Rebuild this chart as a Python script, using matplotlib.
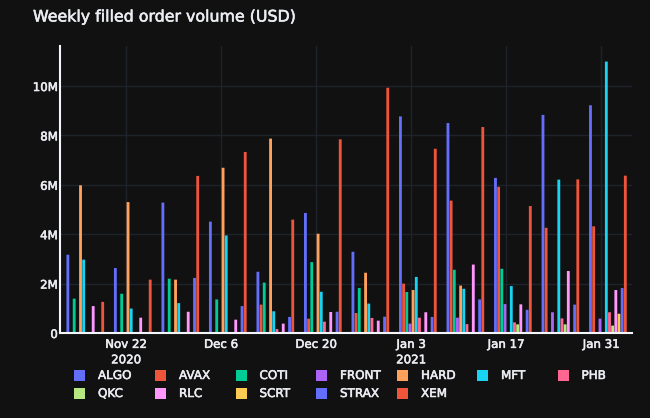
from datetime import date, timedelta
import matplotlib
matplotlib.use("Agg")
import matplotlib.pyplot as plt
import matplotlib.dates as mdates
import matplotlib.patheffects as pe

weeks = [date(2020, 11, 16) + timedelta(days=7 * i) for i in range(12)]

ALGO = [3.17, 2.63, 5.28, 4.51, 2.48, 4.86, 3.29, 8.77, 8.50, 6.28, 8.83, 9.22]
AVAX = [0.01, 0.01, 0.01, 0.01, 1.15, 0.58, 0.81, 2.00, 5.36, 5.92, 4.26, 4.32]
COTI = [1.39, 1.59, 2.20, 1.36, 2.04, 2.87, 1.82, 1.66, 2.56, 2.60, 0.01, 0.01]
FRONT = [0, 0, 0, 0, 0, 0, 0, 0.38, 0.62, 1.17, 0.84, 0.58]
HARD = [5.98, 5.30, 2.16, 6.69, 7.87, 4.02, 2.44, 1.74, 1.92, 0.01, 0.01, 0.01]
MFT = [2.97, 0.99, 1.21, 3.95, 0.88, 1.67, 1.19, 2.27, 1.79, 1.90, 6.21, 10.99]
PHB = [0, 0, 0, 0, 0.16, 0.46, 0.61, 0.62, 0.36, 0.43, 0.59, 0.84]
QKC = [0, 0, 0, 0, 0, 0, 0, 0, 0, 0.35, 0.35, 0.30]
RLC = [1.09, 0.62, 0.86, 0.54, 0.38, 0.85, 0.50, 0.84, 2.77, 1.16, 2.51, 1.74]
SCRT = [0, 0, 0, 0, 0, 0, 0, 0, 0, 0, 0, 0.78]
STRAX = [0, 0, 2.23, 1.09, 0.65, 0.86, 0.66, 0.65, 1.36, 0.94, 1.15, 1.82]
XEM = [1.26, 2.16, 6.36, 7.33, 4.59, 7.84, 9.93, 7.46, 8.34, 5.14, 6.22, 6.37]

series = [
    ("ALGO", ALGO, "#636efa"),
    ("AVAX", AVAX, "#ef553b"),
    ("COTI", COTI, "#00cc96"),
    ("FRONT", FRONT, "#ab63fa"),
    ("HARD", HARD, "#ffa15a"),
    ("MFT", MFT, "#19d3f3"),
    ("PHB", PHB, "#ff6692"),
    ("QKC", QKC, "#b6e880"),
    ("RLC", RLC, "#ff97ff"),
    ("SCRT", SCRT, "#fecb52"),
    ("STRAX", STRAX, "#636efa"),
    ("XEM", XEM, "#ef553b"),
]

tick_dates = [date(2020, 11, 22), date(2020, 12, 6), date(2020, 12, 20),
              date(2021, 1, 3), date(2021, 1, 17), date(2021, 1, 31)]
tick_labels = ["Nov 22\n2020", "Dec 6", "Dec 20", "Jan 3\n2021", "Jan 17", "Jan 31"]

BG = "#111111"
TXT = "#ebedf2"
W, H = 650, 418
heavy = [pe.withStroke(linewidth=0.4, foreground=TXT)]

plt.rcParams["font.family"] = ["DejaVu Sans"]
fig = plt.figure(figsize=(W / 100, H / 100), dpi=100, facecolor=BG)
ax = fig.add_axes([60.5 / W, 1 - 333 / H, (632 - 60.5) / W, (333 - 46) / H], facecolor=BG)

x0 = mdates.date2num(weeks)
day_w = 7 * 0.8 / len(series)
for i, (name, vals, col) in enumerate(series):
    bars = ax.bar(x0 + (i - 5.5) * day_w, vals, day_w * 0.9, color=col, edgecolor="none",
                  label=name, zorder=3)
    for b in bars:
        b.set_snap(False)

ax.set_xlim(x0[0] - 3.65, x0[-1] + 3.55)
ax.set_ylim(0, 11.62)
ax.set_xticks(mdates.date2num(tick_dates))
ax.set_xticklabels(tick_labels, fontsize=8.5, color=TXT, linespacing=1.25, path_effects=heavy)
ax.set_yticks(range(0, 11, 2))
ax.set_yticklabels(["0", "2M", "4M", "6M", "8M", "10M"], fontsize=8.5, color=TXT, path_effects=heavy)
ax.tick_params(axis="x", length=0, pad=3.5)
ax.tick_params(axis="y", length=0, pad=2)
ax.grid(color="#1e232b", linewidth=1, zorder=0)
ax.set_axisbelow(True)
for s in ["top", "right"]:
    ax.spines[s].set_visible(False)
for s in ["left", "bottom"]:
    ax.spines[s].set_color("#f2f5fa")
    ax.spines[s].set_linewidth(1.5)
    ax.spines[s].set_zorder(5)

fig.text(33 / W, 1 - 17 / H, "Weekly filled order volume (USD)", fontsize=11.4, color=TXT,
         va="center", ha="left", path_effects=heavy)

# legend is placed by hand, two rows of seven
col_x = [74, 155, 235.5, 316, 397, 477, 557.5]
row_y = [375.5, 393.5]
for k, (name, _, col) in enumerate(series):
    x = col_x[k % 7]
    y = row_y[k // 7]
    fig.add_artist(plt.Rectangle((x / W, 1 - (y + 5.5) / H), 11 / W, 11 / H, facecolor=col,
                                 edgecolor="none", transform=fig.transFigure))
    fig.text((x + 24) / W, 1 - y / H, name, fontsize=8.6, color=TXT, va="center", ha="left",
             path_effects=heavy)

fig.savefig("out.png", dpi=100, facecolor=BG)
